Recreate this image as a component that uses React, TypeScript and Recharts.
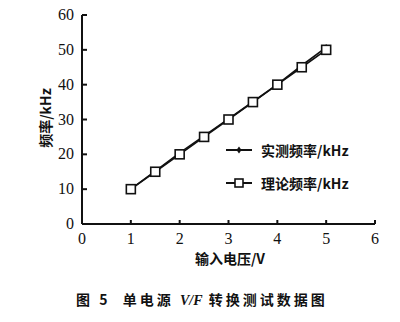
import { LineChart, Line, XAxis, YAxis } from 'recharts'

// 输入电压 (V)
const voltages = [1, 1.5, 2, 2.5, 3, 3.5, 4, 4.5, 5]
// 实测频率 (kHz)
const measured = [10, 15.2, 20.4, 25.3, 30.2, 35.1, 40.1, 45.5, 50.7]
// 理论频率 (kHz)
const theory = [10, 15, 20, 25, 30, 35, 40, 45, 50]

const xTicks = [0, 1, 2, 3, 4, 5, 6]
const yTicks = [0, 10, 20, 30, 40, 50, 60]

const data = voltages.map((v, i) => ({ v, measured: measured[i], theory: theory[i] }))

const serif = '"Liberation Serif", "Times New Roman", serif'
const cjk = '"Noto Sans CJK SC", "Liberation Serif", serif'

function YTick(props: any) {
  const { x, y, payload } = props
  const ax = x + 8
  return (
    <g>
      {payload.value !== 0 && <line x1={ax} y1={y} x2={ax + 5} y2={y} stroke="#111" strokeWidth={2} />}
      <text x={x} y={y} dy={5} textAnchor="end" fontFamily={serif} fontSize={16} fill="#111">
        {payload.value}
      </text>
    </g>
  )
}

function XTick(props: any) {
  const { x, y, payload } = props
  const ay = y - 8
  return (
    <g>
      {payload.value !== 0 && <line x1={x} y1={ay} x2={x} y2={ay - 4} stroke="#111" strokeWidth={2} />}
      <text x={x} y={y} dy={12} textAnchor="middle" fontFamily={serif} fontSize={16} fill="#111">
        {payload.value}
      </text>
    </g>
  )
}

function Diamond(props: any) {
  const { cx, cy } = props
  if (cx == null || cy == null) return null
  return <path d={`M${cx},${cy - 3.5} L${cx + 2.5},${cy} L${cx},${cy + 3.5} L${cx - 2.5},${cy} Z`} fill="#111" />
}

function Square(props: any) {
  const { cx, cy } = props
  if (cx == null || cy == null) return null
  return <rect x={cx - 4.5} y={cy - 4.5} width={9} height={9} fill="#fff" stroke="#111" strokeWidth={1.6} />
}

export default function App() {
  return (
    <div style={{ position: 'absolute', left: 0, top: 0, width: 400, height: 322, background: '#fff' }}>
      <LineChart width={400} height={322} data={data} margin={{ top: 15, right: 25, left: 0, bottom: 68 }}>
        <XAxis
          type="number"
          dataKey="v"
          domain={[0, 6]}
          ticks={xTicks}
          interval={0}
          stroke="#111"
          strokeWidth={2}
          tickLine={false}
          tickSize={0}
          tickMargin={8}
          height={30}
          tick={<XTick />}
        />
        <YAxis
          type="number"
          domain={[0, 60]}
          ticks={yTicks}
          interval={0}
          stroke="#111"
          strokeWidth={2}
          tickLine={false}
          tickSize={0}
          tickMargin={8}
          width={82}
          tick={<YTick />}
        />
        <Line
          dataKey="measured"
          stroke="#111"
          strokeWidth={1.6}
          dot={<Diamond />}
          activeDot={false}
          isAnimationActive={false}
        />
        <Line
          dataKey="theory"
          stroke="#111"
          strokeWidth={1.6}
          dot={<Square />}
          activeDot={false}
          isAnimationActive={false}
        />
      </LineChart>

      {/* y axis title */}
      <div
        style={{
          position: 'absolute', left: 45, top: 118, transform: 'translate(-50%, -50%) rotate(-90deg)',
          fontFamily: cjk, fontSize: 14, fontWeight: 700, color: '#111', whiteSpace: 'nowrap',
        }}
      >
        频率/kHz
      </div>

      {/* legend */}
      <div style={{ position: 'absolute', left: 226, top: 140, fontFamily: cjk, fontSize: 14, fontWeight: 700, color: '#111' }}>
        <div style={{ display: 'flex', alignItems: 'center', height: 20 }}>
          <svg width={28} height={12} style={{ marginRight: 7 }}>
            <line x1={0} y1={6} x2={26} y2={6} stroke="#111" strokeWidth={2} />
            <path d="M13,2.5 L15.5,6 L13,9.5 L10.5,6 Z" fill="#111" />
          </svg>
          实测频率/kHz
        </div>
        <div style={{ display: 'flex', alignItems: 'center', height: 20, marginTop: 13 }}>
          <svg width={28} height={12} style={{ marginRight: 7 }}>
            <line x1={0} y1={6} x2={26} y2={6} stroke="#111" strokeWidth={2} />
            <rect x={9} y={2} width={8} height={8} fill="#fff" stroke="#111" strokeWidth={1.6} />
          </svg>
          理论频率/kHz
        </div>
      </div>

      {/* x axis title */}
      <div
        style={{
          position: 'absolute', left: 230, top: 258, transform: 'translate(-50%, -50%)',
          fontFamily: cjk, fontSize: 14, fontWeight: 700, color: '#111', whiteSpace: 'nowrap',
        }}
      >
        输入电压/V
      </div>

      {/* caption */}
      <div
        style={{
          position: 'absolute', left: 76, top: 299, transform: 'translateY(-50%)',
          fontFamily: cjk, fontSize: 14, fontWeight: 700, color: '#111', whiteSpace: 'nowrap', letterSpacing: 3,
        }}
      >
        图 5&nbsp;&nbsp;单电源 <i style={{ fontFamily: serif, letterSpacing: 0 }}>V/F</i> 转换测试数据图
      </div>
    </div>
  )
}
